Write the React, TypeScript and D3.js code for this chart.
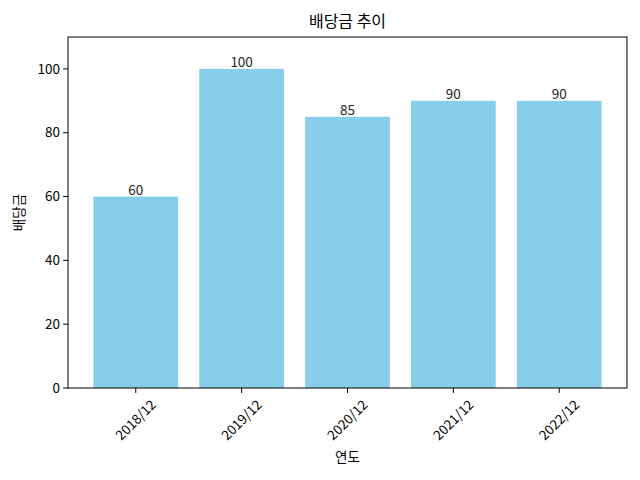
import React from 'react';
import * as d3 from 'd3';

const years = ['2018/12', '2019/12', '2020/12', '2021/12', '2022/12'];
const dividends = [60, 100, 85, 90, 90];
const yTicks = [0, 20, 40, 60, 80, 100];

const FONT = '"Noto Sans CJK KR", "Noto Sans", sans-serif';

const App = () => {
  const margin = { left: 68, right: 13, top: 37, bottom: 92 };
  const width = 640 - margin.left - margin.right;
  const height = 480 - margin.top - margin.bottom;

  // matplotlib-like: bars of width 0.8, 5% margins
  const n = years.length;
  const lo = -0.4 - 0.05 * (n - 1 + 0.8);
  const hi = n - 1 + 0.4 + 0.05 * (n - 1 + 0.8);
  const x = d3.scaleLinear().domain([lo, hi]).range([0, width]);
  const y = d3.scaleLinear().domain([0, 110]).range([height, 0]);
  const bw = x(0.8) - x(0);

  return (
    <svg
      width={640}
      height={480}
      style={{ position: 'absolute', left: 0, top: 0, background: '#fff' }}
      fontFamily={FONT}
    >
      <text x={margin.left + width / 2} y={27} textAnchor="middle" fontSize={16} fill="#000">
        배당금 추이
      </text>
      <g transform={`translate(${margin.left}, ${margin.top})`}>
        {dividends.map((d, i) => (
          <g key={years[i]}>
            <rect
              x={x(i) - bw / 2}
              y={y(d)}
              width={bw}
              height={height - y(d)}
              fill="#87CEEB"
            />
            <text x={x(i)} y={y(d) - 2} textAnchor="middle" fontSize={13.5} fill="#222">
              {d}
            </text>
          </g>
        ))}
        <rect x={0} y={0} width={width} height={height} fill="none" stroke="#000" strokeWidth={1} />
        {yTicks.map((t) => (
          <g key={t} transform={`translate(0, ${y(t)})`}>
            <line x1={-4.9} x2={0} stroke="#000" />
            <text x={-8} dy="0.35em" textAnchor="end" fontSize={13.5} fill="#000">
              {t}
            </text>
          </g>
        ))}
        {years.map((yr, i) => (
          <g key={yr} transform={`translate(${x(i)}, ${height})`}>
            <line y1={0} y2={4.9} stroke="#000" />
            <text
              transform="translate(0, 32) rotate(-45)"
              textAnchor="middle"
              dy="0.35em"
              fontSize={13.5}
              fill="#000"
            >
              {yr}
            </text>
          </g>
        ))}
        <text x={width / 2} y={height + 74} textAnchor="middle" fontSize={13.5} fill="#000">
          연도
        </text>
        <text
          transform={`translate(${-44}, ${height / 2}) rotate(-90)`}
          textAnchor="middle"
          fontSize={13.5}
          fill="#000"
        >
          배당금
        </text>
      </g>
    </svg>
  );
};

export default App;
